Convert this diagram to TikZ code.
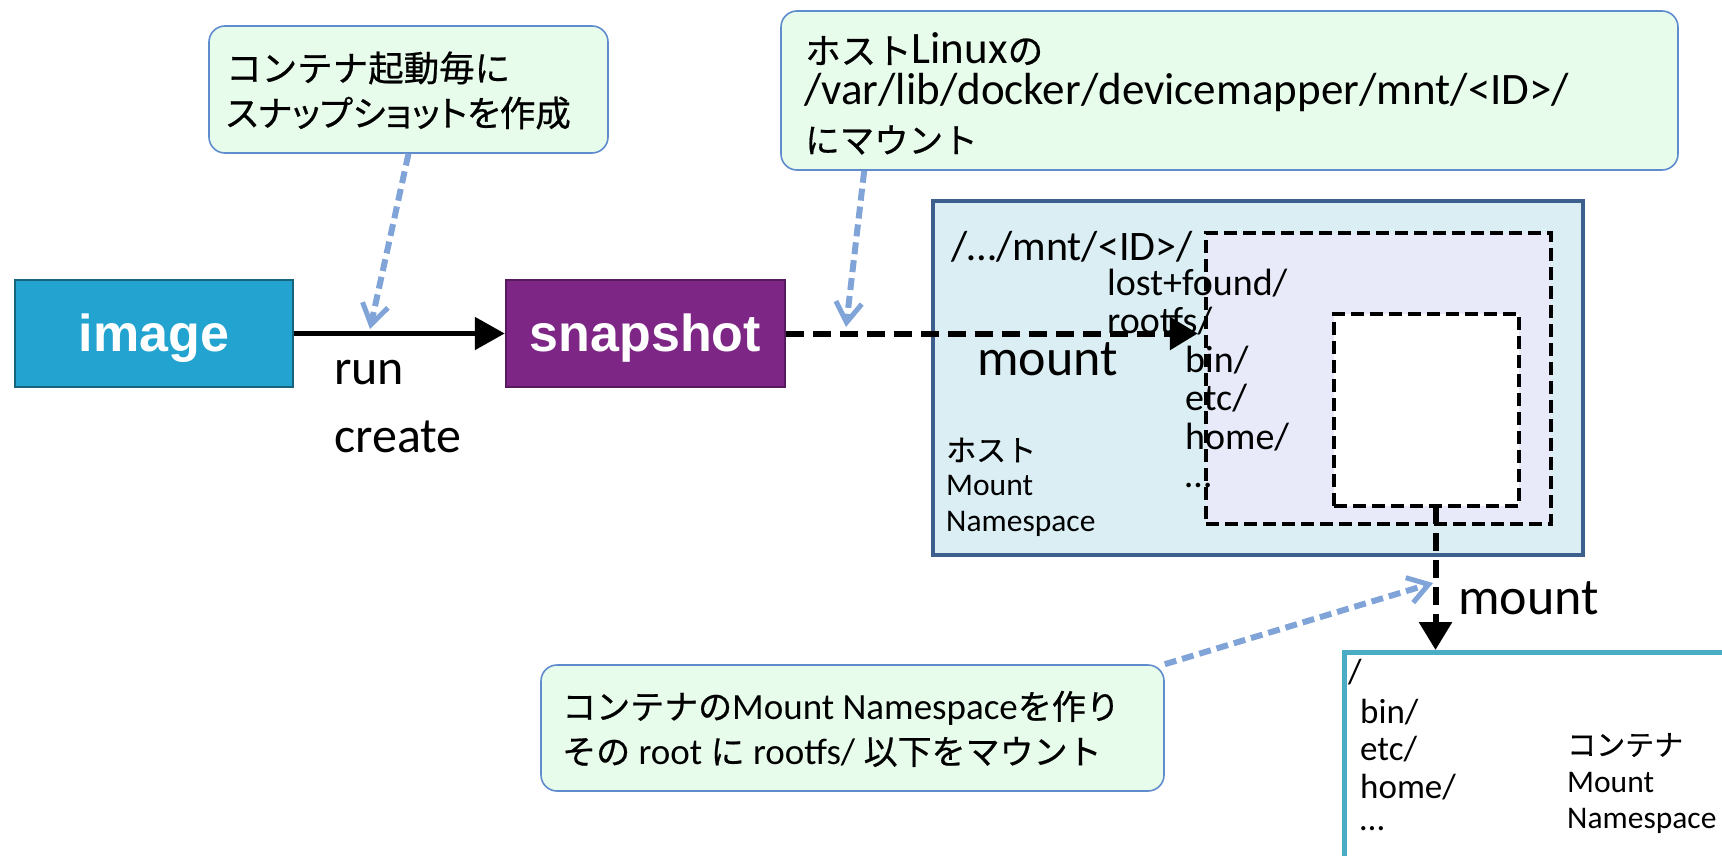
\documentclass[tikz,border=0pt]{standalone}
\usepackage{fontspec}
\setmainfont{Carlito}
\newfontfamily\jp{Noto Sans CJK JP}[FakeBold=0.6]
\newfontfamily\jpprop{Noto Sans CJK JP}[FakeBold=0.6, RawFeature=+palt]
\newfontfamily\heavy{Liberation Sans}[BoldFont={Liberation Sans Bold}]
\usetikzlibrary{arrows.meta}
\newcommand{\fsz}[1]{\fontsize{#1}{#1}\selectfont}

\definecolor{imgfill}{RGB}{35,163,207}
\definecolor{imgline}{RGB}{24,100,125}
\definecolor{snapfill}{RGB}{126,38,133}
\definecolor{snapline}{RGB}{88,26,94}
\definecolor{notefill}{RGB}{232,252,236}
\definecolor{noteline}{RGB}{95,140,205}
\definecolor{hostfill}{RGB}{218,238,243}
\definecolor{hostline}{RGB}{60,95,142}
\definecolor{rootfill}{RGB}{232,234,250}
\definecolor{ctrline}{RGB}{75,172,198}
\definecolor{hint}{RGB}{128,163,216}

\tikzset{
  solidbox/.style={draw, line width=2.5, inner sep=0, text=white,
    text height=35, text depth=0, font=\heavy\bfseries\fsz{52}},
  note/.style={draw=noteline, fill=notefill, line width=1.6, rounded corners=16,
    inner sep=0},
  dashbox/.style={draw, line width=3.5, dash pattern=on 13 off 6, inner sep=0},
  lbl/.style={anchor=west, inner sep=0, align=left},
  flow/.style={line width=5.5, -{Triangle[length=30, width=32]}},
  flowdash/.style={line width=6, dash pattern=on 18 off 9,
    -{Triangle[length=28, width=32]}},
  hintarrow/.style={draw=hint, line width=6, dash pattern=on 12 off 6,
    -{Straight Barb[length=20, width=26, line width=5]}},
}

\begin{document}
\begin{tikzpicture}[x=1pt, y=-1pt]
\useasboundingbox (0,0) rectangle (1722,856);

% process boxes
\node[solidbox, fill=imgfill, draw=imgline, minimum width=278, minimum height=107]
  (image) at (154,333.5) {image};
\node[solidbox, fill=snapfill, draw=snapline, minimum width=279, minimum height=107]
  (snap) at (645.5,333.5) {snapshot};

% host mount namespace
\node[draw=hostline, fill=hostfill, line width=4.5, minimum width=650, minimum height=354,
  inner sep=0] (host) at (1258,378) {};
\node[fill=rootfill, minimum width=345, minimum height=291, inner sep=0]
  (rootfs) at (1378.5,378.5) {};
\node[fill=white, minimum width=185, minimum height=192, inner sep=0]
  (inner) at (1426.5,410) {};

% container mount namespace
\node[draw=ctrline, fill=white, line width=4.5, minimum width=420, minimum height=260,
  inner sep=0, anchor=north west] (ctr) at (1342,650) {};

% notes
\node[note, minimum width=399, minimum height=127] (note1) at (408.5,89.5) {};
\node[note, minimum width=897, minimum height=159] (note2) at (1229.5,90.5) {};
\node[note, minimum width=623, minimum height=126] (note3) at (852.5,728) {};

\node[lbl, font=\jp\fsz{35.5}] (n1a) at (226,68) {コンテナ起動毎に};
\node[lbl, font=\jpprop\fsz{35.5}] (n1b) at (226,113) {スナップショットを作成};

\node[lbl, font=\fsz{45}] (n2a) at (805,49) {{\jp\fsz{35.5}ホスト}Linux{\jp\fsz{35.5}の}};
\node[lbl, font=\fsz{45}] (n2b) at (804,93) {/var/lib/docker/devicemapper/mnt/<ID>/};
\node[lbl, font=\jp\fsz{34.5}] (n2c) at (805,140) {にマウント};

\node[lbl, font=\fsz{37}] (n3a) at (562,708)
  {{\jp\fsz{34}コンテナの}Mount Namespace{\jp\fsz{34}を作り}};
\node[lbl, font=\fsz{37}] (n3b) at (562,752)
  {{\jp\fsz{34}その} root {\jp\fsz{34}に} rootfs/ {\jp\fsz{34}以下をマウント}};

% labels of the flow
\node[lbl, font=\fsz{50}] (run) at (334,373) {run};
\node[lbl, font=\fsz{50}] (create) at (334,437) {create};
\node[lbl, font=\fsz{52}] (mnt1) at (977,359) {mount};
\node[lbl, font=\fsz{52}] (mnt2) at (1458,598) {mount};

% host side listing
\node[lbl, font=\fsz{42}] (hpath) at (951,247) {/…/mnt/<ID>/};
\node[lbl, font=\fsz{38}] (lf) at (1107,283) {lost+found/};
\node[lbl, font=\fsz{38}] (rf) at (1107,321) {rootfs/};
\node[lbl, font=\fsz{38}] (hb) at (1185,360) {bin/};
\node[lbl, font=\fsz{38}] (he) at (1185,398) {etc/};
\node[lbl, font=\fsz{38}] (hh) at (1185,437) {home/};
\node[lbl, font=\fsz{38}] (hd) at (1185,485) {…};
\node[lbl, font=\jp\fsz{30}] (hns1) at (946,450) {ホスト};
\node[lbl, font=\fsz{31.5}] (hns2) at (946,486) {Mount};
\node[lbl, font=\fsz{31.5}] (hns3) at (946,524) {Namespace};

% container side listing
\node[lbl, font=\fsz{35}] (cr) at (1348,672) {/};
\node[lbl, font=\fsz{35}] (cb) at (1360,712) {bin/};
\node[lbl, font=\fsz{35}] (ce) at (1360,749) {etc/};
\node[lbl, font=\fsz{35}] (ch) at (1360,787) {home/};
\node[lbl, font=\fsz{35}] (cd) at (1360,829) {…};
\node[lbl, font=\jp\fsz{29}] (cns1) at (1567,745) {コンテナ};
\node[lbl, font=\fsz{31.5}] (cns2) at (1567,783) {Mount};
\node[lbl, font=\fsz{31.5}] (cns3) at (1567,821) {Namespace};

% dashed outlines of the mounted trees
\node[dashbox, minimum width=345, minimum height=291] at (rootfs.center) {};
\node[dashbox, minimum width=185, minimum height=192] at (inner.center) {};

% connectors
\draw[flow] (image.east) -- (snap.west);
\draw[flowdash] (snap.east) -- ([xshift=-8]snap.east -| rootfs.west);
\coordinate (drop) at ([xshift=9]inner.south);
\draw[flowdash] (drop) -- (drop |- ctr.north);

\coordinate (t1) at (370,329);
\coordinate (t2) at (846,327);
\coordinate (t3) at (1433,583);
\draw[hintarrow] (note1.south) -- (t1);
\draw[hintarrow] ([xshift=84]note2.south west) -- (t2);
\draw[hintarrow] (note3.north east) -- (t3);
\end{tikzpicture}
\end{document}
